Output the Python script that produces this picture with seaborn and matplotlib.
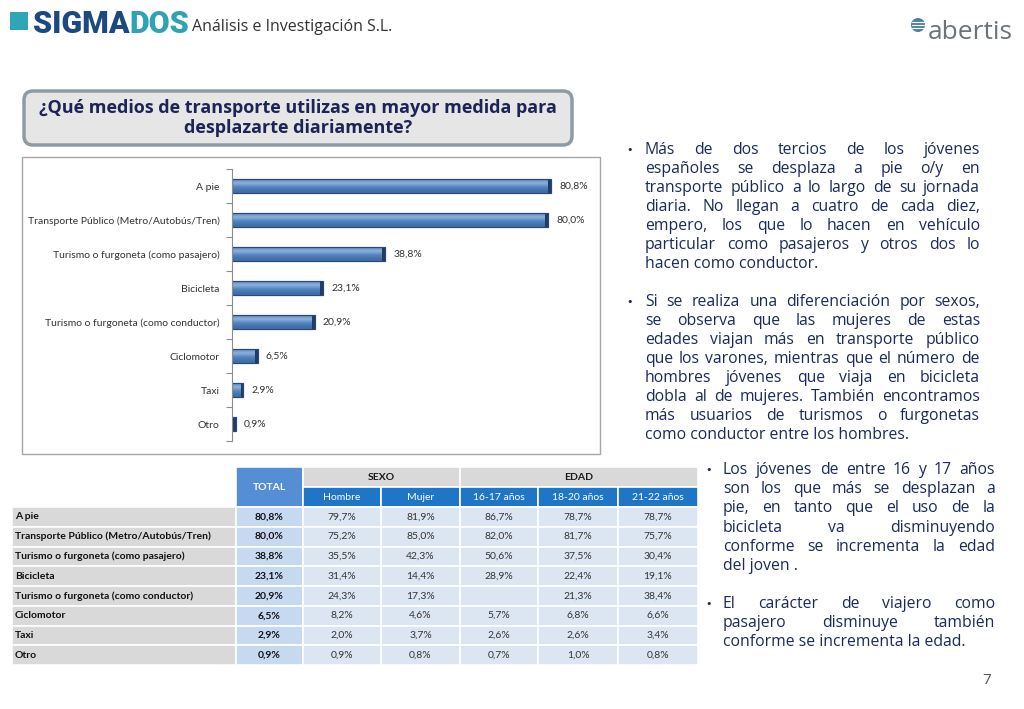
import matplotlib
matplotlib.use("Agg")
import matplotlib.pyplot as plt
from matplotlib.patches import Rectangle, FancyBboxPatch, Circle
from matplotlib.colors import LinearSegmentedColormap
import numpy as np
import seaborn as sns

# ---------------- data ----------------
categories = ["A pie", "Transporte Público (Metro/Autobús/Tren)",
              "Turismo o furgoneta (como pasajero)", "Bicicleta",
              "Turismo o furgoneta (como conductor)", "Ciclomotor", "Taxi", "Otro"]
total = [80.8, 80.0, 38.8, 23.1, 20.9, 6.5, 2.9, 0.9]
hombre = [79.7, 75.2, 35.5, 31.4, 24.3, 8.2, 2.0, 0.9]
mujer = [81.9, 85.0, 42.3, 14.4, 17.3, 4.6, 3.7, 0.8]
edad_16_17 = [86.7, 82.0, 50.6, 28.9, None, 5.7, 2.6, 0.7]
edad_18_20 = [78.7, 81.7, 37.5, 22.4, 21.3, 6.8, 2.6, 1.0]
edad_21_22 = [78.7, 75.7, 30.4, 19.1, 38.4, 6.6, 3.4, 0.8]
sub_headers = ["Hombre", "Mujer", "16-17 años", "18-20 años", "21-22 años"]
group_headers = ["SEXO", "EDAD"]

title = "¿Qué medios de transporte utilizas en mayor medida para\ndesplazarte diariamente?"
para1 = ["Más de dos tercios de los jóvenes",
         "españoles se desplaza a pie o/y en",
         "transporte público a lo largo de su jornada",
         "diaria. No llegan a cuatro de cada diez,",
         "empero, los que lo hacen en vehículo",
         "particular como pasajeros y otros dos lo",
         "hacen como conductor."]
para2 = ["Si se realiza una diferenciación por sexos,",
         "se observa que las mujeres de estas",
         "edades viajan más en transporte público",
         "que los varones, mientras que el número de",
         "hombres jóvenes que viaja en bicicleta",
         "dobla al de mujeres. También encontramos",
         "más usuarios de turismos o furgonetas",
         "como conductor entre los hombres."]
para3 = ["Los jóvenes de entre 16 y 17 años",
         "son los que más se desplazan a",
         "pie, en tanto que el uso de la",
         "bicicleta va disminuyendo",
         "conforme se incrementa la edad",
         "del joven ."]
para4 = ["El carácter de viajero como",
         "pasajero disminuye también",
         "conforme se incrementa la edad."]


def fmt(v):
    return "" if v is None else f"{v:.1f}%".replace(".", ",")


sns.set_theme(style="white")
plt.rcParams["font.family"] = ["Lato", "DejaVu Sans"]

W, H = 1024, 709
fig = plt.figure(figsize=(W / 100, H / 100), dpi=100)
fig.patch.set_facecolor("white")

bg = fig.add_axes([0, 0, 1, 1])
bg.set_xlim(0, W)
bg.set_ylim(H, 0)
bg.axis("off")
renderer = fig.canvas.get_renderer()


def measure(s, **kw):
    t = bg.text(0, 0, s, **kw)
    w = t.get_window_extent(renderer).width
    t.remove()
    return w


# ---------------- header ----------------
bg.add_patch(Rectangle((10, 12), 18, 18, color="#2ea6b8", lw=0))
logo_kw = dict(family="Roboto", weight="heavy", fontsize=22)
w_sig = measure("SIGMA", **logo_kw)
bg.text(33, 33, "SIGMA", color="#1c4a7e", va="baseline", ha="left", **logo_kw)
bg.text(33 + w_sig, 33, "DOS", color="#2fa3b3", va="baseline", ha="left", **logo_kw)
bg.text(192, 31, "Análisis e Investigación S.L.", family="Open Sans", fontsize=11.5,
        color="#333333", va="baseline", ha="left")

bg.add_patch(Circle((918, 25), 7, color="#4c7fa1", lw=0))
for dy in (-3, 0, 3):
    bg.plot([912, 924], [25 + dy, 25 + dy], color="white", lw=0.8)
bg.text(928, 39, "abertis", family="Open Sans", fontsize=19, color="#6b7378",
        va="baseline", ha="left")

# ---------------- title box ----------------
bg.add_patch(FancyBboxPatch((24, 91), 548, 54, boxstyle="round,pad=0,rounding_size=9",
                            facecolor="#e6e6e6", edgecolor="#8e9ba4", lw=2.5))
bg.text(298, 118, title, ha="center", va="center", family="Open Sans", weight="bold",
        fontsize=13, color="#1c2457", linespacing=1.2)

# ---------------- bar chart ----------------
bg.add_patch(Rectangle((22, 157), 578, 297, facecolor="white", edgecolor="#a6a6a6", lw=1))

ax = fig.add_axes([232 / W, 1 - 441 / H, 358 / W, 272 / H])
sns.barplot(x=total, y=categories, orient="h", color="#4f81bd", saturation=1,
            width=0.4, edgecolor="#2a4a74", linewidth=0.8, ax=ax)
xmax = 358 / 3.948
grad = np.array([[0.55], [0.9], [0.7], [0.5], [0.4], [0.25]])
cmap = LinearSegmentedColormap.from_list("bar", ["#2c5689", "#4f81bd", "#a9c6ea"])
for p in list(ax.patches):
    x0, y0, w, h = p.get_x(), p.get_y(), p.get_width(), p.get_height()
    im = ax.imshow(grad, extent=[x0, x0 + w, y0 + h, y0], aspect="auto", cmap=cmap,
                   vmin=0, vmax=1, zorder=p.get_zorder() + 0.1, interpolation="bicubic")
    im.set_clip_path(p)
    ax.add_patch(Rectangle((max(x0, x0 + w - 0.7), y0), min(0.7, w), h,
                           facecolor="#1f3c63", lw=0, zorder=p.get_zorder() + 0.2))
    ax.add_patch(Rectangle((x0, y0), w, h, facecolor="none", edgecolor="#2a4a74",
                           lw=0.8, zorder=p.get_zorder() + 0.3))
ax.bar_label(ax.containers[0], labels=[fmt(v) for v in total], padding=6,
             fontsize=7.5, color="#333333")
ax.set_xlim(0, xmax)
ax.set_ylim(7.5, -0.5)
ax.set_xlabel("")
ax.set_ylabel("")
ax.set_xticks([])
ax.tick_params(axis="y", which="major", length=0, pad=9, labelsize=7.5, labelcolor="#333333")
ax.set_yticks(np.arange(-0.5, 8, 1), minor=True)
ax.tick_params(axis="y", which="minor", length=4, color="#8c8c8c", width=0.8, left=True)
for s in ("top", "right", "bottom"):
    ax.spines[s].set_visible(False)
ax.spines["left"].set_color("#8c8c8c")
ax.spines["left"].set_linewidth(0.8)
ax.patch.set_alpha(0)

# ---------------- table ----------------
col_edges = [12, 236, 303, 381, 460, 538, 618, 698]
hdr_edges = [467, 487, 507]
row_h = 19.75
cols = [total, hombre, mujer, edad_16_17, edad_18_20, edad_21_22]
GRID = "white"
tkw = dict(fontsize=7.5, va="center")


def cell(x0, x1, y0, y1, fc):
    bg.add_patch(Rectangle((x0, y0), x1 - x0, y1 - y0, facecolor=fc, edgecolor=GRID, lw=1.2))


cell(col_edges[1], col_edges[2], hdr_edges[0], hdr_edges[2], "#558ed5")
bg.text((col_edges[1] + col_edges[2]) / 2, (hdr_edges[0] + hdr_edges[2]) / 2, "TOTAL",
        ha="center", color="white", weight="bold", **tkw)
cell(col_edges[2], col_edges[4], hdr_edges[0], hdr_edges[1], "#d9d9d9")
bg.text((col_edges[2] + col_edges[4]) / 2, (hdr_edges[0] + hdr_edges[1]) / 2,
        group_headers[0], ha="center", color="#1a1a1a", weight="bold", **tkw)
cell(col_edges[4], col_edges[7], hdr_edges[0], hdr_edges[1], "#d9d9d9")
bg.text((col_edges[4] + col_edges[7]) / 2, (hdr_edges[0] + hdr_edges[1]) / 2,
        group_headers[1], ha="center", color="#1a1a1a", weight="bold", **tkw)
for j, lab in enumerate(sub_headers):
    cell(col_edges[j + 2], col_edges[j + 3], hdr_edges[1], hdr_edges[2], "#1f76c6")
    bg.text((col_edges[j + 2] + col_edges[j + 3]) / 2, (hdr_edges[1] + hdr_edges[2]) / 2,
            lab, ha="center", color="white", **tkw)

for i, cat in enumerate(categories):
    y0 = hdr_edges[2] + i * row_h
    y1 = y0 + row_h
    yc = (y0 + y1) / 2
    cell(col_edges[0], col_edges[1], y0, y1, "#d9d9d9")
    bg.text(col_edges[0] + 3, yc, cat, ha="left", color="#111111", weight="bold", **tkw)
    for j, col in enumerate(cols):
        fc = "#c6d9f1" if j == 0 else "#dce6f2"
        cell(col_edges[j + 1], col_edges[j + 2], y0, y1, fc)
        bg.text((col_edges[j + 1] + col_edges[j + 2]) / 2, yc, fmt(col[i]), ha="center",
                color="#111111" if j == 0 else "#333333",
                weight="bold" if j == 0 else "normal", **tkw)

# ---------------- justified text ----------------
body_kw = dict(family="Open Sans", fontsize=11.3, color="#1b2a5a")


def paragraph(lines, bx, left, right, y_start, dy):
    bg.text(bx, y_start, "•", ha="left", va="center", family="DejaVu Sans",
            fontsize=8, color="#1b2a5a")
    for k, line in enumerate(lines):
        y = y_start + k * dy
        words = line.split()
        if k == len(lines) - 1 or len(words) == 1:
            bg.text(left, y, line, ha="left", va="center", **body_kw)
            continue
        widths = [measure(wd, **body_kw) for wd in words]
        gap = (right - left - sum(widths)) / (len(words) - 1)
        x = left
        for wd, ww in zip(words, widths):
            bg.text(x, y, wd, ha="left", va="center", **body_kw)
            x += ww + gap


paragraph(para1, 626, 645, 980, 150, 19)
paragraph(para2, 626, 645, 980, 302, 19)
paragraph(para3, 705, 723, 995, 470, 19.2)
paragraph(para4, 705, 723, 995, 604, 19)

bg.text(987, 681, "7", ha="center", va="center", family="Open Sans", fontsize=11,
        color="#555555")

fig.savefig("out.png", dpi=100, facecolor="white")
